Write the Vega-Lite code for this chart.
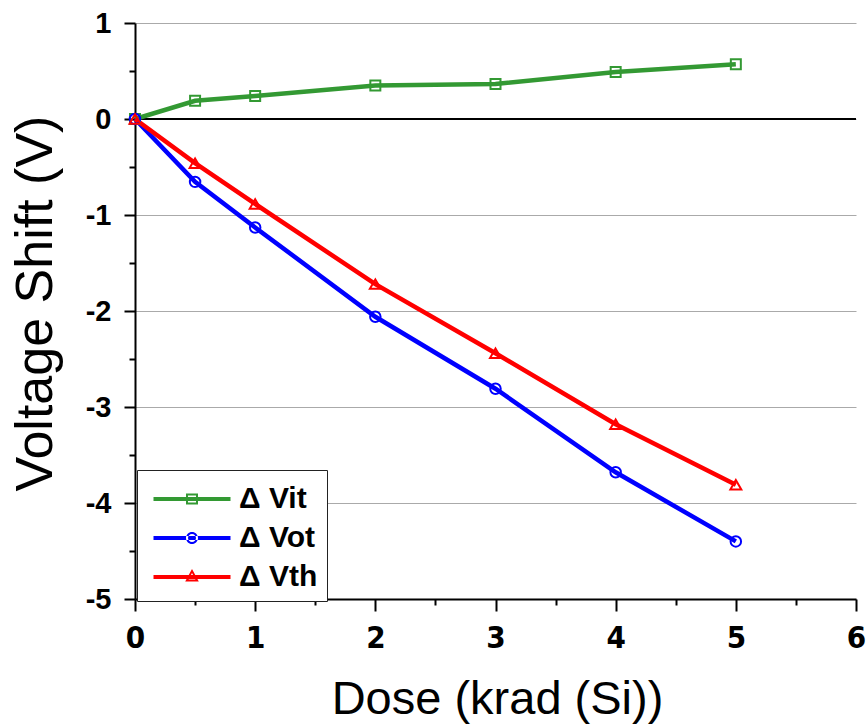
{
  "$schema": "https://vega.github.io/schema/vega-lite/v6.json",
  "width": 721,
  "height": 576,
  "autosize": {"type": "none"},
  "padding": {"left": 135, "top": 23, "right": 11, "bottom": 126},
  "background": "white",
  "config": {
    "font": "Liberation Sans",
    "view": {"stroke": null},
    "axis": {"domainColor": "black", "domainWidth": 2, "tickColor": "black", "tickWidth": 2}
  },
  "data": {
    "values": [
      {"dose": 0, "shift": 0, "series": "Δ Vit"},
      {"dose": 0.5, "shift": 0.19, "series": "Δ Vit"},
      {"dose": 1, "shift": 0.24, "series": "Δ Vit"},
      {"dose": 2, "shift": 0.35, "series": "Δ Vit"},
      {"dose": 3, "shift": 0.365, "series": "Δ Vit"},
      {"dose": 4, "shift": 0.49, "series": "Δ Vit"},
      {"dose": 5, "shift": 0.57, "series": "Δ Vit"},
      {"dose": 0, "shift": 0, "series": "Δ Vot"},
      {"dose": 0.5, "shift": -0.655, "series": "Δ Vot"},
      {"dose": 1, "shift": -1.13, "series": "Δ Vot"},
      {"dose": 2, "shift": -2.06, "series": "Δ Vot"},
      {"dose": 3, "shift": -2.81, "series": "Δ Vot"},
      {"dose": 4, "shift": -3.68, "series": "Δ Vot"},
      {"dose": 5, "shift": -4.40, "series": "Δ Vot"},
      {"dose": 0, "shift": 0, "series": "Δ Vth"},
      {"dose": 0.5, "shift": -0.46, "series": "Δ Vth"},
      {"dose": 1, "shift": -0.885, "series": "Δ Vth"},
      {"dose": 2, "shift": -1.72, "series": "Δ Vth"},
      {"dose": 3, "shift": -2.44, "series": "Δ Vth"},
      {"dose": 4, "shift": -3.18, "series": "Δ Vth"},
      {"dose": 5, "shift": -3.81, "series": "Δ Vth"}
    ]
  },
  "encoding": {
    "x": {
      "field": "dose", "type": "quantitative",
      "scale": {"domain": [0, 6], "nice": false, "zero": false},
      "axis": {
        "title": "Dose (krad (Si))",
        "values": [0, 0.5, 1, 1.5, 2, 2.5, 3, 3.5, 4, 4.5, 5, 5.5, 6],
        "labelExpr": "datum.value % 1 === 0 ? '' + datum.value : ''",
        "tickSize": {"condition": {"test": "datum.value % 1 === 0", "value": 12}, "value": 6},
        "labelFont": "'Liberation Sans Narrow', 'DejaVu Sans Condensed', 'Liberation Sans', sans-serif",
        "labelFontWeight": "bold",
        "labelFontSize": 31,
        "labelColor": "black",
        "labelPadding": 12,
        "labelFlush": false,
        "grid": false,
        "titleFont": "Liberation Sans",
        "titleFontWeight": "normal",
        "titleFontSize": 47,
        "titleColor": "black",
        "titleX": 362,
        "titleY": 114,
        "titleBaseline": "alphabetic",
        "titleAlign": "center"
      }
    },
    "y": {
      "field": "shift", "type": "quantitative",
      "scale": {"domain": [-5, 1], "nice": false, "zero": false},
      "axis": {
        "title": "Voltage Shift (V)",
        "values": [-5, -4.5, -4, -3.5, -3, -2.5, -2, -1.5, -1, -0.5, 0, 0.5, 1],
        "labelExpr": "datum.value % 1 === 0 ? '' + datum.value : ''",
        "tickSize": {"condition": {"test": "datum.value % 1 === 0", "value": 11}, "value": 6},
        "labelFont": "'Liberation Sans', Arial, sans-serif",
        "labelFontWeight": "bold",
        "labelFontSize": 29,
        "labelColor": "black",
        "labelPadding": 13,
        "labelFlush": false,
        "grid": true,
        "gridColor": "#aaaaaa",
        "gridWidth": 1,
        "gridOpacity": {"condition": {"test": "datum.value % 1 === 0", "value": 1}, "value": 0},
        "titleFont": "Liberation Sans",
        "titleFontWeight": "normal",
        "titleFontSize": 52,
        "titleColor": "black",
        "titleAngle": -90,
        "titleX": -84,
        "titleY": 280,
        "titleBaseline": "alphabetic",
        "titleAlign": "center"
      }
    }
  },
  "layer": [
    {
      "data": {"values": [{"zero": 0}]},
      "mark": {"type": "rule", "color": "black", "strokeWidth": 2},
      "encoding": {"y": {"field": "zero", "type": "quantitative"}, "x": null}
    },
    {
      "mark": {"type": "line", "strokeWidth": 4.5},
      "encoding": {
        "color": {
          "field": "series", "type": "nominal",
          "scale": {"domain": ["Δ Vit", "Δ Vot", "Δ Vth"], "range": ["#339933", "#0000ff", "#ff0000"]},
          "legend": {
            "title": null,
            "orient": "none",
            "legendX": 2,
            "legendY": 447,
            "padding": 9,
            "strokeColor": "#222222",
            "fillColor": "white",
            "symbolSize": 1600,
            "symbolOffset": 26,
            "labelOffset": 27,
            "rowPadding": 4,
            "labelFont": "Liberation Sans",
            "labelFontWeight": "bold",
            "labelFontSize": 30,
            "labelColor": "black",
            "encode": {
              "symbols": {
                "update": {
                  "shape": {"signal": "datum.value === 'Δ Vit' ? 'M-1.925,-0.1H1.925V0.1H-1.925Z M-0.3,-0.28H0.3V0.28H-0.3Z M-0.2,-0.18V0.18H0.2V-0.18Z' : datum.value === 'Δ Vot' ? 'M-1.925,-0.1H1.925V0.1H-1.925Z M-0.3,0A0.3,0.3 0 1,0 0.3,0A0.3,0.3 0 1,0 -0.3,0Z M-0.2,0A0.2,0.2 0 1,1 0.2,0A0.2,0.2 0 1,1 -0.2,0Z' : 'M-1.925,-0.1H1.925V0.1H-1.925Z M0,-0.4L0.34,0.22H-0.34Z M0,-0.2L-0.17,0.12H0.17Z'"},
                  "fill": {"signal": "scale('color', datum.value)"},
                  "fillOpacity": {"value": 1},
                  "opacity": {"value": 1},
                  "strokeWidth": {"value": 0}
                }
              }
            }
          }
        }
      }
    },
    {
      "transform": [{"filter": "datum.series === 'Δ Vit'"}],
      "mark": {"type": "point", "shape": "square", "filled": false, "strokeWidth": 2, "opacity": 1, "size": 100},
      "encoding": {"color": {"field": "series", "type": "nominal"}}
    },
    {
      "transform": [{"filter": "datum.series === 'Δ Vot'"}],
      "mark": {"type": "point", "shape": "circle", "filled": false, "strokeWidth": 2, "opacity": 1, "size": 110},
      "encoding": {"color": {"field": "series", "type": "nominal"}}
    },
    {
      "transform": [{"filter": "datum.series === 'Δ Vth'"}],
      "mark": {"type": "point", "shape": "triangle-up", "filled": false, "strokeWidth": 2, "opacity": 1, "size": 120},
      "encoding": {"color": {"field": "series", "type": "nominal"}}
    }
  ]
}
